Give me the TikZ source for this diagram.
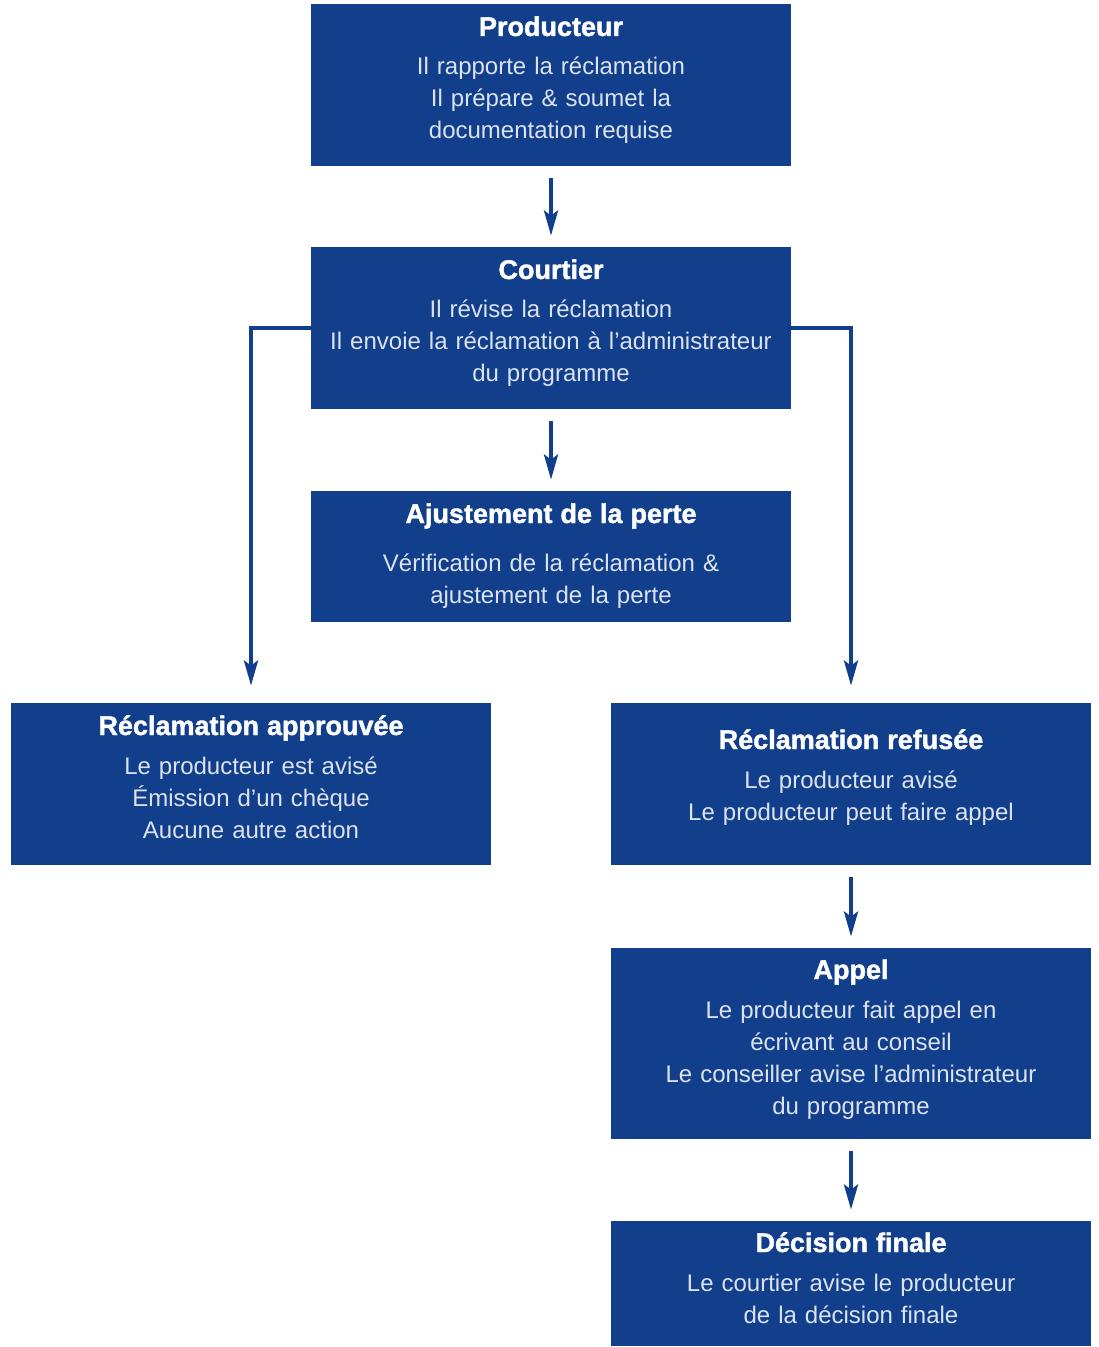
\documentclass[tikz,border=0pt]{standalone}
\usepackage{fontspec}
\setmainfont{Liberation Sans}
\newfontfamily\heavyfont[BoldFeatures={FakeBold=1.4}]{Liberation Sans}
\usepackage{xcolor}
\usepackage{tikz}
\usetikzlibrary{arrows.meta}

\definecolor{boxblue}{HTML}{123F8C}
\definecolor{bodytext}{HTML}{DCE2EE}

\newcommand{\boxtitle}[1]{\rule{0pt}{12pt}{\color{white}\fontsize{13.5}{16}\heavyfont\bfseries #1}}
\newcommand{\boxend}[1][9.5pt]{\rule[-#1]{0pt}{0pt}}

\begin{document}
\begin{tikzpicture}[x=0.5pt, y=-0.5pt, >={Stealth[length=12.5pt, width=7pt, inset=2.5pt]}]
\tikzset{
  every box/.style={fill=boxblue, text=bodytext, text width=240pt, inner sep=0pt,
    align=center, minimum height=81pt, font=\fontsize{12}{16}\selectfont},
  link/.style={boxblue, line width=2pt, ->, shorten <=6pt, shorten >=5.5pt},
}

\useasboundingbox (0,0) rectangle (1098,1347);

\node [every box] (prod) at (551,85)
  {\boxtitle{Producteur}\\[3.5pt] Il rapporte la réclamation\\ Il prépare \& soumet la\\ documentation requise\boxend};
\node [every box] (court) at (551,328)
  {\boxtitle{Courtier}\\[3.5pt] Il révise la réclamation\\ Il envoie la réclamation à l’administrateur\\ du programme\boxend};
\node [every box, minimum height=65.5pt] (ajust) at (551,556.5)
  {\boxtitle{Ajustement de la perte}\\[8pt] Vérification de la réclamation \&\\ ajustement de la perte\boxend[5.5pt]};
\node [every box] (approuv) at (251,784)
  {\boxtitle{Réclamation approuvée}\\[3.5pt] Le producteur est avisé\\ Émission d’un chèque\\ Aucune autre action\boxend};
\node [every box] (refus) at (851,784)
  {\boxtitle{Réclamation refusée}\\[3.5pt] Le producteur avisé\\ Le producteur peut faire appel\boxend[11.5pt]};
\node [every box, minimum height=95.5pt] (appel) at (851,1043.5)
  {\boxtitle{Appel}\\[3.5pt] Le producteur fait appel en\\ écrivant au conseil\\ Le conseiller avise l’administrateur\\ du programme\boxend[9pt]};
\node [every box, minimum height=62.5pt] (decis) at (851,1283.5)
  {\boxtitle{Décision finale}\\[3.5pt] Le courtier avise le producteur\\ de la décision finale\boxend[8pt]};

\foreach \a/\b in {prod/court, court/ajust, refus/appel, appel/decis}
  \draw [link] (\a) -- (\b);

\draw [link, shorten <=0pt, shorten >=8.5pt] (court.west) -| (approuv.north);
\draw [link, shorten <=0pt, shorten >=8.5pt] (court.east) -| (refus.north);
\end{tikzpicture}
\end{document}
